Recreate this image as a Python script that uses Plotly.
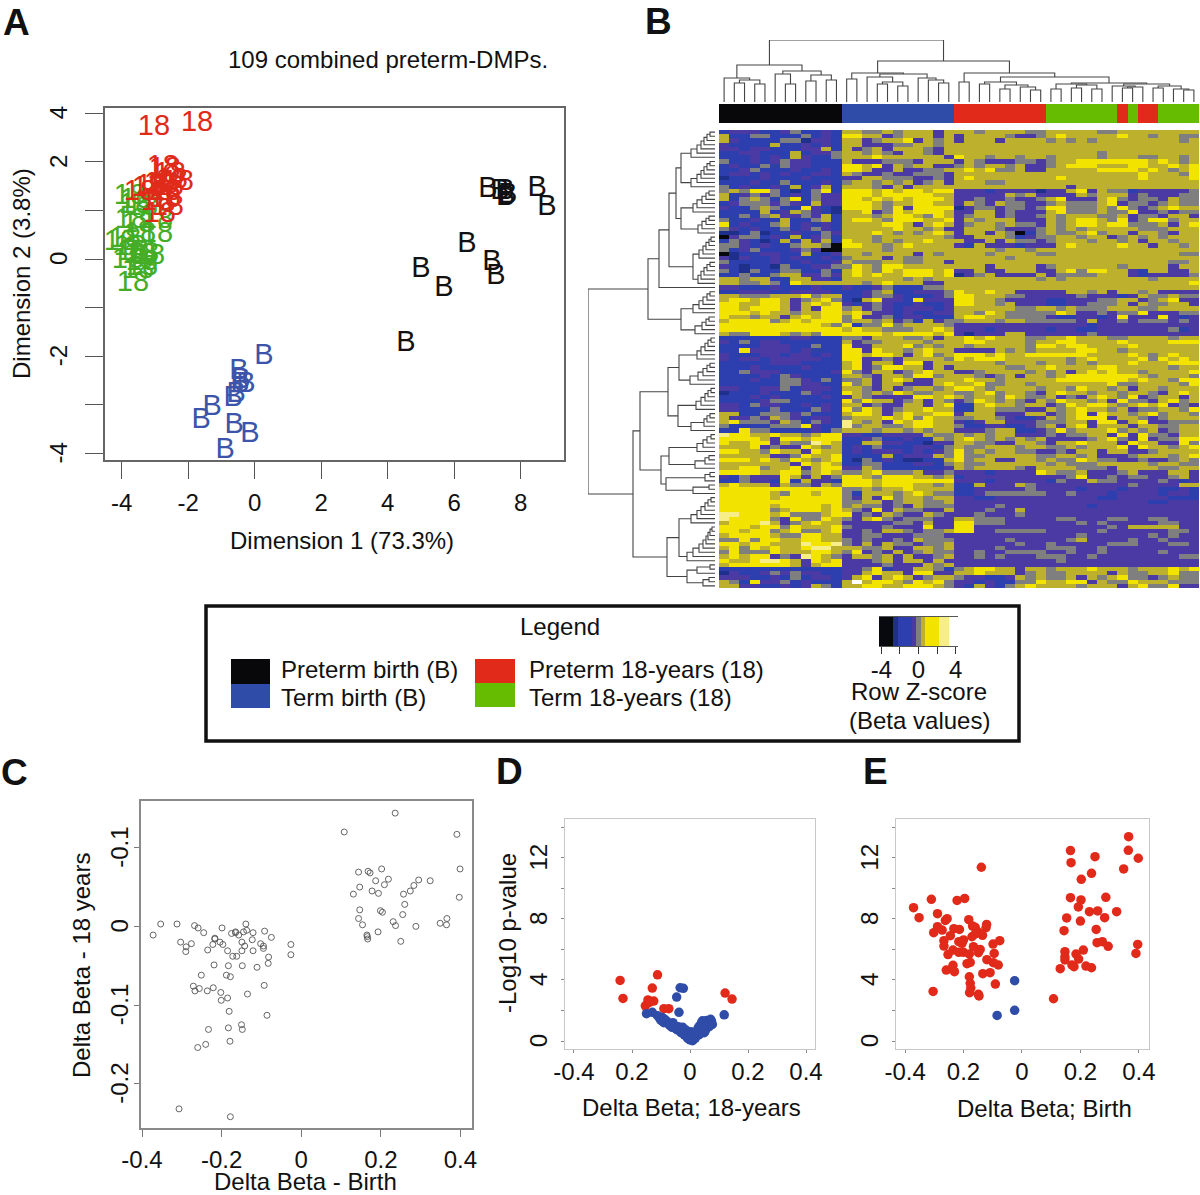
import plotly.graph_objects as go

# ---------- data ----------
black_x = [7.01,7.37,7.52,7.61,7.55,8.49,8.79,6.38,7.13,7.25,5.00,5.69,4.55]
black_y = [1.42,1.38,1.38,1.30,1.26,1.44,1.05,0.29,-0.08,-0.37,-0.22,-0.62,-1.75]
blue_x = [0.28,-0.47,-0.41,-0.26,-0.44,-0.56,-0.65,-1.28,-1.61,-0.62,-0.14,-0.89]
blue_y = [-2.01,-2.32,-2.51,-2.59,-2.59,-2.80,-2.88,-3.06,-3.33,-3.43,-3.62,-3.95]
green_x = [-3.75,-3.57,-3.60,-3.39,-3.72,-3.51,-2.94,-3.90,-3.45,-4.05,-3.75,-3.36,-3.66,-3.81,-3.18,-3.45,-3.39,-3.66,-3.39,-3.51,-2.94]
green_y = [1.28,1.20,1.09,1.05,0.78,0.70,0.50,0.39,0.50,0.33,0.23,0.08,0.13,-0.04,0.04,0.06,-0.18,-0.51,-0.08,-0.25,0.78]
red_x = [-3.03,-1.73,-2.70,-2.49,-2.31,-2.61,-2.85,-3.09,-3.21,-2.70,-2.61,-2.70,-2.85,-3.45,-2.94,-2.76,-2.55,-2.76]
red_y = [2.70,2.78,1.83,1.61,1.57,1.46,1.52,1.48,1.44,1.36,1.05,1.22,0.91,1.36,1.15,1.50,1.73,1.87]
a_xticks = [-4,-2,0,2,4,6,8]
a_yticks = [-4,-3,-2,-1,0,1,2,3]
a_ylabels = ["-4","","-2","","0","","2","4"]

palette = {"k":"#08080f","n":"#1f2f8c","b":"#2d3fae","p":"#4b3aa3","g":"#7f7f7f","o":"#bcb02c","y":"#f3e400","w":"#f8ee88","W":"#ffffff"}
rows = """
bpppbbpgbbpb|ooggogooopo|oogooooggoooooggoooooooo
obbggbbbgbpb|yyoopgooopo|poooogppgoyoooooyoogoogg
opbbbbggnppb|oopgooypogo|pooopoooogogogoooooooogo
pbbbbobbpbpb|oopppggoogo|oooooooooooooooooooooooo
ppbppbbbppob|opgopooogpo|oooooooooooooooooooooooo
bbppbbbobppg|oogogpoogpo|oooooooooooooogooooooooo
bbbpbpbopbbg|oooyoooooop|yoogoogoogoooogoooggoogo
gbbpbpgppbbb|opppgggpooo|pogpppggpgooyyyyyyyoyogo
bpbbgbgppbbb|yyoypogoopp|gogoogoppgoyyyoooyyooyoy
bbpgbbbpbbpb|yyoppoppggo|oyoyggoppoooooyyyyoyogoy
bppbpbpbbppb|ogppgppgggp|ooooooooooooooooooyooogyo
nbbbpbbbpbbb|ppoogggppgp|oyooooooooyoooooooyooooy
bbbpbbgbbbpb|googogopgop|oooggooooooooooooooooooo
gbpbbpbobpob|ooogpopoooo|ooooooooooopoooooooooooo
gogyygbnbgyb|yyyoyoyyoyy|pppbppppnppoypoggbpppppg
obpgpgbpbgpp|yyyoyyyyyoo|pppppogoppppogooopgpppgg
obgogbgybgpp|yyoyoyoyyyo|ppgppgppgoypppoygpggpogg
bpgggpgpbopp|yyyogooyyoo|pogpoggppgogggoypggpgogg
pbbgogbbypbn|yyyogypyyyy|npggpggpgyygggogygpgoyoo
bbbbobpogpbn|ooypgyoyyyo|ppoopgpppoygggoggyppgpgg
bbgbgoppgpob|ooogoyyogyo|pgoopgppgogoooggopggpoop
gbbpbbobbgob|oyyogyyyooy|pogooopppogoyyogypgyygoo
ybpbbgobpbpb|ooooyyopoyo|pgoogoggpogoyyoyygggopoy
gpbpbbgbpgpb|oooooyoogop|pooogpppgogogooooogggooo
nnbgnbbpbbgp|oooyogogoyo|poopogkbgoggoygoopoogpoo
kpggbpbobpgb|ooogoooooog|ppooogbpggoogoopgogogooo
bgpbnbobopob|yoogogooyoo|oppopoggpgooogoogopoogoo
ggpbpbbgoogk|yyoogoyoooo|pbopppbpppoyooooyoopoogo
gbpgbbbpgpkk|oooogoooooo|oooogoogoooooooooooooooo
knbbppbbobbp|oogoooopogo|ooogooooggoooooooooooog
pnpbbpbpbbpb|gooopoggooo|ooooogoooooooooooooooooo
gbbbbpbbpbbp|ogggooggoop|oooooooooooooooooooooggo
pbnbbngbbppg|gyogyyooooo|ooopoooopgoooooogoooopoo
gbngbbggbbgb|oyogyoyyyoy|ppoppoooppoygyyoopbooppo
bbgbbgooppgp|oyoyooyyyoy|npgoppppopggggooopbppppg
oogoobbooppb|oooooogogoo|oooooooogogoooooooogooo
ooggogbyoooo|oogoyoooppo|oooooooooooooooooooooooy
ppbbbpbbbpbb|pbbpgbbbggo|oooooooooooooooooooooooo
bbpppbbppppb|bbpgobbpppg|yooyoopppppoogopoogop
oogggoooygoo|bbpggpbbbpg|yyoooggpppppgpppbpoggogg
oyyoyyopgoyg|bnoyppbyppp|yyoogppppbbpppggoopgoypp
yyooyyopoyoy|pbpgpbbpbbp|yyoogopppbbppgggopoggoop
yyoyyyopopyy|gopgpbpppbp|ooooooggoogogggoooggoooo
yyyoyoogooyy|oyoppbpbbpp|oogyogggggyoppgpggypppgg
yoogoopoyoyy|gyppgbppbbb|oyyooggggpbbppbpypppypbp
oyyyygoyoyyy|googopgbopg|gooogoogggggpoppgpgggpgp
yyyyyyyyyyog|ybggygoooog|pppppppppppppbpppppppppp
yyyyyyyyyyyy|oyoogggooyo|pppbpppppbppbbpppppppgbp
oggyyyogogyy|yyyyoyyyyoy|pnpppooppppppgpppppppppp
bbbbbbbppbbb|ggpoooggopo|oyoyoooggooyoooggoooogoo
pbgbppbbbbbb|opggoooogoo|oyyoooogooyyooooyooooyyy
bbbbpppbbgbb|yppoooygogo|ogooooogyyoyyooooyoooooo
bbyppppbpbbb|yypyoogoyoo|ppppogogooooyyoogooooooo
pbbbppbppbpb|yyoyyopoygo|yyyoyooyyyyyyooooyogoyoo
pbppbpppppbb|yyppgpoooog|yoyyyoooooogoyooooygyoyo
bbbbbpppbbbb|oypoopyypoo|oooogooogoogogoooyoooyyy
bbbpbbbbpbbb|oypgyyoopop|oooooggooyooooyyooooogoo
bbgpppbbbbbp|ygpoopgoyoo|ppgoooogogopoyoyoogooooy
bbbbpbgpbbbb|oogpoogyygo|oogpgopoogoyyyyyyyogooog
bbbpbbggpbgb|ggopoyoppoo|oyoogoooooyyyyyyyoyoogyy
bbbbbbggppbb|ygopoopppoy|ooyggoogoooooooyggoooogy
ppbbppgbpppb|oogpopgoogo|yyogoooogoogyoogopoogooo
nbbbpbbbgpbb|yogogyoggoo|ggoygoogpoyoogoogoogpoyo
bbbpbpbbbbpb|pogppppyyoy|ogoogyoggopgpoyogypgoopo
bbbbpggbbbbb|ygyoopgopog|pgyogogpogyoogopyggpoygo
ppbgppbbpbpb|oopgppoopoy|bboyoogoopgyoyyogoyoypgp
ppbbbgbbbgpb|ygyopgooyoo|bboogggppogoyoogopggoogy
oobbgggpgbbb|oyyopoyooyy|pooopppoopgoypyoogoygoog
oppgpogpbppb|goooyoygyoo|ggoogpbbpogoyyypoogpgooo
oygggpogbgpb|wogopyoyyoo|pbpoopppgggoopyypoyppggg
gbbbbgggypbb|wgooggoyyoo|gbbppbbpgopoypooopooggoo
bbyggbbbbpbg|ooogoogogoo|pppgoobbpgygoooygogopgoo
wyyooyoogoyy|ppbbppppogg|ogogoopppgpggoopypyggpoo
yyyyopyyoyyy|bbpgbbpbbog|oyogogogoppppgoygpypggyy
yooyypoggwyo|bbooppbbnpp|ooggppoogpooyooopyooppyg
oooypgppyogo|bpbgbbbppbg|oggooogooggogoooypyoogoy
yyoogyoopyoo|bpbpppbpbpg|ygogooggppgpoopooppgoooo
oooooppgyooy|bbbbobpppog|yggoooooggoogopppgooogoy
yyyoyogyogoy|bngbpbnnbbo|ygooppoogoggyoggppgppgog
ooooooopyoyo|bbggbbbppbg|oggoooooogogggooooogoogg
ooyygooypoyy|ppogbbbbbbp|ogoooogpoooogggpooooggoo
yyyyooyygoyo|ggoygggoppg|pppbppppyoggopppgopppoop
pbgpppyopopg|yyogyyyoogo|bppppppppppgyppgpggppgop
bbgppbyboppb|yyyoyyyyyyy|pppbpppppbgppoggppppgpbp
oyooopoggpog|yyyoyyyoogo|bbopppogpppppppppgppppoo
yyyyyyyyyyyy|ggogooyoooo|bbpppppgppppbpppbpppbbpb
yyyyyogyyoyy|gbooogoyogg|bbpggggggppgpppbppppbppb
yyyyyoyyyyyy|gpopygoogoo|ppbbppppppppppbbpppppbbb
yyyyyyyyyyyy|ggoopgooggo|pppppppppppppppppppbbppp
yyyyyoyyyyoy|goggpgpoggg|ppppgppppppppbpppppppppp
yyyyygoyyyoy|ogpypoggppo|pppgppoppppppppppppppppp
wwyyyoygggoy|ypgpogppogp|ppgpppgppppppppppppppppp
wyyyygpyggyo|gpoygpgggpp|oogggpppppggpppggppggppp
oyyywopgoyoo|pppppggpopp|yygggpppppppgpgpppppggpp
yyyoyygyoooy|gpppgpppypp|yypppppppppppppgpooooopp
yyoyygoyggoy|ppgpoogpggo|yyppgggggpppppgppppppggp
oyyyyoggyyoo|ppggpppgggp|ppppppppppppgppppppgpgpp
ggygyyooyyoo|gpgppgpoggg|pppppgpppppgoppppgppgppp
yyoyyooowyyw|gpopoggpggo|ppppppgppgpppppgggpppggp
oygyoyooywwo|ooggoppoogo|ppppgppppgggppgppppppppp
gygggyoooyyo|gypgpopgogg|ppgppggggppgppgpppppgppp
oyoyypgpwyog|poogopoppgo|ppgpgpppgggppgppppppppgg
yooywwyopyoy|pppgopoopop|ppppppppppgppppppppppppp
oyyyyyyopoyy|ppppgpppogo|pppppppppppppppppppppppp
bbbbbbbbbbbb|ppgybppoogb|goyyoopoogoooyooogoooyoy
npbbpgpgppbb|ppoyoopyypp|ooyooopgoggoooopoggooygg
pppbbpbgbppb|poypoyopgoo|gppbbpogoggopogoyggpgogg
ogbyppgbpbbb|oWoyyogyoyg|ppbpbbggyooyypoggyoooggg
ooppbbpbpogb|ooyyooyyyog|pbopbgoyoooogooopoyggypp
"""
row_rows = [r.split("|") for r in rows.strip().split("\n")]
col_groups = ["k"]*12 + ["B"]*11 + ["R"]*9 + ["G"]*7 + ["R"] + ["G"] + ["R"]*2 + ["G"]*4
key_x = [-4,-3.5,-3,-2.5,-2,-1.5,-1,-0.5,0,0.5,1,1.5,2,2.5,3,3.5,4]
key_levels = "kkknbbbpgoyyywwWW"
key_ticks = [-4,-2,0,2,4]
key_labels = ["-4","","0","","4"]

# dendrograms: (height, left, right) with 0 a leaf; a list is a chain of merge heights
col_black = (37,(24,0,(22,(19,0,0),(18,0,0))),(31,(28,0,(18,0,0)),(27,(21,0,0),(22,0,0))))
col_blue = (29,(23,0,0),(28,(25,0,(20,(18,0,0),(16,0,0))),(24,0,(22,0,(19,0,0)))))
col_rg = (29,(20,0,0),(25,(20,(18,0,0),(17,(13,0,0),(15,0,(12,0,0)))),
          (19,(18,(13,0,0),(17,(14,0,0),(13,0,0))),(18,(16,0,(15,(14,0,0),0)),(16,(14,0,0),(13,0,(12,0,0)))))))
col_tree = (62,col_black,(41,col_blue,col_rg))
S1 = (34,[5,8,11,14,18,24],[5,8,11,14,18,24])
S2 = (34,[6,9,13,18,22],[6,9,13,17])
S3 = (22,[4,6,9,12,16],[5,8,11,14,17])
S4 = (34,[5,8,12,16,22],[6,9,13,20])
S5 = (47,(36,[4,7,10,14,18],[5,8,12,17,25]),(37,[4,7,10,14,19],[5,8,11,24]))
S6 = (54,(46,[4,8,12,18],[6,10,20]),(49,[5,10],[6,22]))
S7 = (36,[4,7,10,14,18,24],[3,5,7,9,12,16,22,28])
S8 = (28,[5,18],[6,12])
row_tree = (127,(67,(56,(46,(39,S1,S2),S3),0),S4),(82,(75,S5,S6),(48,S7,S8)))

c_x = [-.372,-.353,-.312,-.268,-.259,-.245,-.199,-.303,-.289,-.290,-.276,-.217,-.217,-.222,-.235,-.204,-.197,-.185,-.175,-.165,-.165,-.157,-.139,-.137,-.145,-.121,-.092,-.075,-.149,-.142,-.149,-.123,-.121,-.102,-.095,-.095,-.172,-.162,-.082,-.083,-.111,-.148,-.183,-.219,-.026,-.026,-.251,-.188,-.178,-.271,-.267,-.256,-.236,-.221,-.202,-.201,-.185,-.135,-.093,-.181,-.086,-.233,-.183,-.150,-.148,-.179,-.240,-.260,-.307,-.178,.108,.236,.391,.399,.397,.144,.168,.173,.202,.187,.219,.209,.147,.131,.178,.194,.257,.274,.283,.295,.324,.260,.147,.199,.204,.255,.144,.154,.231,.237,.288,.349,.366,.365,.193,.165,.166,.167,.250]
c_y = [-.011,.003,.003,.001,-.002,-.008,-.002,-.020,-.026,-.032,-.022,-.015,-.016,-.023,-.030,-.020,-.023,-.031,-.009,-.007,-.008,-.011,.003,-.005,-.007,-.008,-.006,-.014,-.020,-.025,-.031,-.017,-.031,-.022,-.025,-.028,-.038,-.038,-.039,-.047,-.052,-.050,-.050,-.049,-.023,-.036,-.062,-.062,-.064,-.076,-.082,-.079,-.082,-.078,-.084,-.094,-.091,-.086,-.075,-.108,-.113,-.131,-.129,-.125,-.131,-.146,-.150,-.154,-.232,-.242,.120,.144,.117,.073,.037,.069,.070,.068,.073,.058,.060,.053,.050,.041,.045,.042,.041,.045,.052,.059,.058,.028,.021,.020,.018,.015,.010,.002,.006,.001,0,.004,.010,.002,-.007,-.011,-.013,-.016,-.019]
c_xticks = [-.4,-.2,0,.2,.4]
c_xlabels = ["-0.4","-0.2","0","0.2","0.4"]
c_yticks = [-.2,-.1,0,.1]
c_ylabels = ["-0.2","-0.1","0","-0.1"]

d_red_x = [-.241,-.231,-.112,-.130,.121,.145,-.145,-.125,-.154,-.090,-.073,-.140]
d_red_y = [3.97,2.79,4.34,3.47,3.14,2.75,2.69,2.62,2.31,2.12,2.12,2.53]
d_blue_x = [-.034,-.023,-.046,-.038,.118,-.150,-.130,-.112,-.096,-.087,-.093,-.076,-.059,-.053,-.040,-.025,-.062,-.042,-.031,-.014,-.019,-.008,0,.009,-.002,.015,.003,.071,.060,.077,.043,.051,.032,.066,.026,.049,.037,.020,-.105,-.068,-.048,-.035,.012,.005,-.010,.028,.055,-.100,-.090,-.080,-.070,-.055,-.045,-.030,-.020,-.012,.022,.035,.040,.058,.068,.074,.046,.030,.018,-.004,.006,.014,.064,.052]
d_blue_y = [3.49,3.45,2.88,1.88,1.72,1.79,1.88,1.66,1.55,1.42,1.27,1.16,1.20,.98,.94,.90,.90,.72,.55,.72,.39,.17,.07,.02,.39,.28,.61,1.42,1.16,1.09,1.33,1.05,.98,.94,.72,.55,.50,.39,1.50,1.05,.80,.70,.12,.22,.30,.85,.80,1.35,1.20,1.30,1.02,1.05,.78,.62,.50,.45,.55,.85,1.20,1.35,1.25,1.30,.75,.40,.18,.22,.20,.50,1.05,.65]
de_xticks = [-.4,-.2,0,.2,.4]
de_xlabels = ["-0.4","0.2","0","0.2","0.4"]
de_yticks = [0,2,4,6,8,10,12,14]
de_ylabels = ["0","","4","","8","","12",""]

e_red_x = [-.371,-.352,-.310,-.289,-.222,-.196,-.139,-.304,-.182,-.262,-.256,-.289,-.302,-.273,-.233,-.214,-.169,-.160,-.121,-.123,-.245,-.267,-.267,-.200,-.216,-.205,-.171,-.149,-.135,-.160,-.166,-.143,-.149,-.236,-.216,-.200,-.180,-.253,-.099,-.076,-.095,-.120,-.098,-.081,-.177,-.188,-.236,-.259,-.231,-.134,-.109,-.180,-.177,-.091,-.175,-.179,-.149,-.147,.166,.250,.168,.365,.364,.398,.348,.238,.203,.166,.287,.202,.193,.231,.259,.324,.153,.200,.283,.254,.144,.257,.275,.295,.210,.147,.147,.185,.147,.194,.171,.178,.219,.238,.131,.396,.390,.108]
e_red_y = [8.73,8.08,9.28,8.34,9.21,9.34,11.38,3.25,7.95,7.90,8.01,7.49,7.10,7.27,7.36,7.31,7.53,7.45,7.64,7.42,6.90,6.57,6.22,6.62,6.51,6.40,6.83,7.12,6.92,7.01,6.18,6.00,5.79,5.96,5.81,5.81,5.70,5.66,6.35,6.57,5.74,5.33,5.13,4.98,5.15,5.07,4.96,4.65,4.54,4.41,4.48,4.21,3.78,3.73,3.47,3.17,3.06,2.95,12.47,12.07,11.68,13.38,12.49,11.97,11.27,10.98,10.59,9.39,9.41,9.24,8.78,8.47,8.52,8.47,8.06,7.86,8.08,7.31,7.23,6.44,6.51,6.20,5.96,5.85,5.52,5.70,5.31,5.37,4.98,4.87,4.91,4.80,4.74,6.33,5.74,2.77]
e_blue_x = [-.025,-.025,-.085]
e_blue_y = [3.95,2.01,1.68]

# ---------- styles ----------
W, H = 1200, 1195
FONT = "Liberation Sans"
RED, GREEN, BLUE = "#e02a1a", "#45ad25", "#3c55aa"
BAR_RED, BAR_GREEN, BAR_BLUE = "#e12a1a", "#66bc00", "#2f4ca8"
codes = list(palette)
pal_scale = []
for i, c in enumerate(codes):
    pal_scale += [[i/len(codes), palette[c]], [(i+1)/len(codes), palette[c]]]
bar_colors = ["#08080a", BAR_BLUE, BAR_RED, BAR_GREEN]
bar_scale = []
for i, c in enumerate(bar_colors):
    bar_scale += [[i/4, c], [(i+1)/4, c]]

fig = go.Figure()
layout = dict(width=W, height=H, margin=dict(l=0, r=0, t=0, b=0, pad=0), paper_bgcolor="white", plot_bgcolor="white",
              showlegend=False, font=dict(family=FONT, color="#111", size=24), autosize=False, template="none")

def dom(box):
    l, t, r, b = box
    return dict(x=[l/W, r/W], y=[1-b/H, 1-t/H])

def axes(idx, box, xr, yr, xopt=None, yopt=None):
    s = "" if idx == 1 else str(idx)
    d = dom(box)
    base = dict(showgrid=False, zeroline=False, automargin=False)
    hidden = dict(visible=False)
    layout["xaxis"+s] = dict(domain=d["x"], range=xr, anchor="y"+s, **base, **(xopt or hidden))
    layout["yaxis"+s] = dict(domain=d["y"], range=yr, anchor="x"+s, **base, **(yopt or hidden))
    return dict(xaxis="x"+s, yaxis="y"+s)

def ticked(vals, text, color, lc, tl, std, lw=1.5):
    return dict(tickmode="array", tickvals=vals, ticktext=text, ticks="outside", ticklen=tl, tickcolor=color, tickwidth=1.3,
                showline=True, mirror=True, linecolor=lc, linewidth=lw, tickfont=dict(size=24, color="#111"), ticklabelstandoff=std)

def rot(o):
    o["tickangle"] = -90
    o["ticklabelshift"] = 3
    return o

# Panel A
ax = axes(1, (105,108,564,460), [-4.50,9.30], [-4.136,3.107],
          ticked(a_xticks, [str(v) for v in a_xticks], "#555", "#666", 17, 3),
          rot(ticked(a_yticks, a_ylabels, "#555", "#666", 18, 9)))
for xs, ys, label, col in [(black_x,black_y,"B","#111"),(blue_x,blue_y,"B",BLUE),(green_x,green_y,"18",GREEN),(red_x,red_y,"18",RED)]:
    fig.add_trace(go.Scatter(x=xs, y=ys, mode="text", text=[label]*len(xs), textposition="middle center",
                             textfont=dict(size=29, color=col, family=FONT), hoverinfo="skip", **ax))

# Panel B heat map
heat = []
for left, mid, right in row_rows:
    s = left.ljust(12, left[-1])[:12] + mid.ljust(11, mid[-1])[:11] + right.ljust(24, right[-1])[:24]
    heat.append([codes.index(c) + 0.5 for c in s])
n_rows, n_cols = len(heat), 47
ax = axes(2, (719,130,1199,588), [-0.5,n_cols-0.5], [n_rows-0.5,-0.5])
fig.add_trace(go.Heatmap(z=heat, colorscale=pal_scale, zmin=0, zmax=len(codes), showscale=False, hoverinfo="skip", **ax))

group_code = {"k":0.5,"B":1.5,"R":2.5,"G":3.5}
ax = axes(3, (719,104,1199,123), [-0.5,n_cols-0.5], [-0.5,0.5])
fig.add_trace(go.Heatmap(z=[[group_code[g] for g in col_groups]], colorscale=bar_scale, zmin=0, zmax=4, showscale=False, hoverinfo="skip", **ax))

def walk(node, counter, segs):
    """Return (position, height); appends the elbow segments of the tree."""
    if node == 0:
        counter[0] += 1
        return counter[0]-1, 0
    if isinstance(node, list):
        p, h = walk(0, counter, segs)
        for hh in node:
            q, hq = walk(0, counter, segs)
            segs.append([(p,h),(p,hh),(q,hh),(q,hq)])
            p, h = (p+q)/2, hh
        return p, h
    hh, a, b = node
    p, hp = walk(a, counter, segs)
    q, hq = walk(b, counter, segs)
    segs.append([(p,hp),(p,hh),(q,hh),(q,hq)])
    return (p+q)/2, hh

def polyline(segs):
    a, b = [], []
    for s in segs:
        for u, v in s:
            a.append(u); b.append(v)
        a.append(None); b.append(None)
    return a, b

segs = []
walk(col_tree, [0], segs)
px, py = polyline(segs)
ax = axes(4, (719,40,1199,102), [-0.5,n_cols-0.5], [0,62])
fig.add_trace(go.Scatter(x=px, y=py, mode="lines", line=dict(color="#444", width=1.1), hoverinfo="skip", **ax))

segs = []
walk(row_tree, [0], segs)
py, px = polyline(segs)
ax = axes(5, (588,130,715,588), [127,0], [n_rows-0.5,-0.5])
fig.add_trace(go.Scatter(x=px, y=py, mode="lines", line=dict(color="#444", width=1.1), hoverinfo="skip", **ax))

# Colour key
ax = axes(6, (879,617,958,646), [-4.25,4.25], [-0.5,0.5],
          dict(tickmode="array", tickvals=key_ticks, ticktext=key_labels, ticks="outside", ticklen=7, tickcolor="#333",
               showline=True, mirror=True, linecolor="#555", linewidth=1, tickfont=dict(size=24, color="#111"), ticklabelstandoff=-5))
fig.add_trace(go.Heatmap(x=key_x, y=[0], z=[[codes.index(c)+0.5 for c in key_levels]], colorscale=pal_scale, zmin=0, zmax=len(codes),
                         showscale=False, hoverinfo="skip", **ax))

# Panel C
ax = axes(7, (141,801,472,1128), [-0.4025,0.429], [-0.2563,0.1594],
          ticked(c_xticks, c_xlabels, "#777", "#8a8a8a", 7, 2),
          rot(ticked(c_yticks, c_ylabels, "#777", "#8a8a8a", 5, -3)))
fig.add_trace(go.Scatter(x=c_x, y=c_y, mode="markers", marker=dict(size=6, color="rgba(0,0,0,0)", line=dict(color="#555", width=0.9)), hoverinfo="skip", **ax))

# Panel D
ax = axes(8, (565,819,815,1049), [-0.431,0.431], [-0.52,14.54],
          ticked(de_xticks, de_xlabels, "#888", "#c8c8c8", 3, -2, 1.3),
          rot(ticked(de_yticks, de_ylabels, "#888", "#c8c8c8", 3, 4, 1.3)))
fig.add_trace(go.Scatter(x=d_red_x, y=d_red_y, mode="markers", marker=dict(size=9.5, color=BAR_RED), hoverinfo="skip", **ax))
fig.add_trace(go.Scatter(x=d_blue_x, y=d_blue_y, mode="markers", marker=dict(size=9.5, color=BAR_BLUE), hoverinfo="skip", **ax))

# Panel E
ax = axes(9, (896,819,1148.5,1049), [-0.431,0.433], [-0.52,14.54],
          ticked(de_xticks, de_xlabels, "#888", "#c8c8c8", 3, -2, 1.3),
          rot(ticked(de_yticks, de_ylabels, "#888", "#c8c8c8", 3, 4, 1.3)))
fig.add_trace(go.Scatter(x=e_red_x, y=e_red_y, mode="markers", marker=dict(size=9.5, color=BAR_RED), hoverinfo="skip", **ax))
fig.add_trace(go.Scatter(x=e_blue_x, y=e_blue_y, mode="markers", marker=dict(size=9.5, color=BAR_BLUE), hoverinfo="skip", **ax))

# ---------- text ----------
def note(x, y, text, size=24, angle=0, bold=False, anchor="center", color="#111"):
    return dict(x=x/W, y=1-y/H, xref="paper", yref="paper", text=("<b>%s</b>" % text) if bold else text, showarrow=False,
                xanchor=anchor, yanchor="middle", textangle=angle, font=dict(size=size, color=color, family=FONT))

layout["annotations"] = [
    note(16,23,"A",37,bold=True), note(658,22,"B",37,bold=True), note(14,772,"C",37,bold=True),
    note(509,771,"D",37,bold=True), note(875,771,"E",37,bold=True),
    note(388,59,"109 combined preterm-DMPs."),
    note(342,540,"Dimension 1 (73.3%)"), note(21,274,"Dimension 2 (3.8%)",angle=-90),
    note(560,626,"Legend"),
    note(279,669,"Preterm birth (B)",anchor="left"), note(279,697,"Term birth (B)",anchor="left"),
    note(527,669,"Preterm 18-years (18)",anchor="left"), note(527,697,"Term 18-years (18)",anchor="left"),
    note(919,691,"Row Z-score"), note(919,720,"(Beta values)"),
    note(305,1181,"Delta Beta - Birth"), note(81,966,"Delta Beta - 18 years",angle=-90),
    note(691,1107,"Delta Beta; 18-years"), note(507,933,"-Log10 p-value",angle=-90),
    note(1044,1108,"Delta Beta; Birth"),
]
layout["shapes"] = [
    dict(type="rect", xref="paper", yref="paper", x0=206/W, x1=1019/W, y0=1-741/H, y1=1-606/H, line=dict(color="#111", width=3.5), fillcolor="rgba(0,0,0,0)"),
    dict(type="rect", xref="paper", yref="paper", x0=231/W, x1=270/W, y0=1-684/H, y1=1-659/H, line=dict(width=0), fillcolor="#08080a"),
    dict(type="rect", xref="paper", yref="paper", x0=231/W, x1=270/W, y0=1-708/H, y1=1-684/H, line=dict(width=0), fillcolor=BAR_BLUE),
    dict(type="rect", xref="paper", yref="paper", x0=475/W, x1=515/W, y0=1-683/H, y1=1-659/H, line=dict(width=0), fillcolor=BAR_RED),
    dict(type="rect", xref="paper", yref="paper", x0=475/W, x1=515/W, y0=1-707/H, y1=1-683/H, line=dict(width=0), fillcolor=BAR_GREEN),
]
fig.update_layout(**layout)
fig.write_html("out.html", config=dict(displayModeBar=False),
               post_script="document.body.style.margin='0';document.body.style.overflow='hidden';")
